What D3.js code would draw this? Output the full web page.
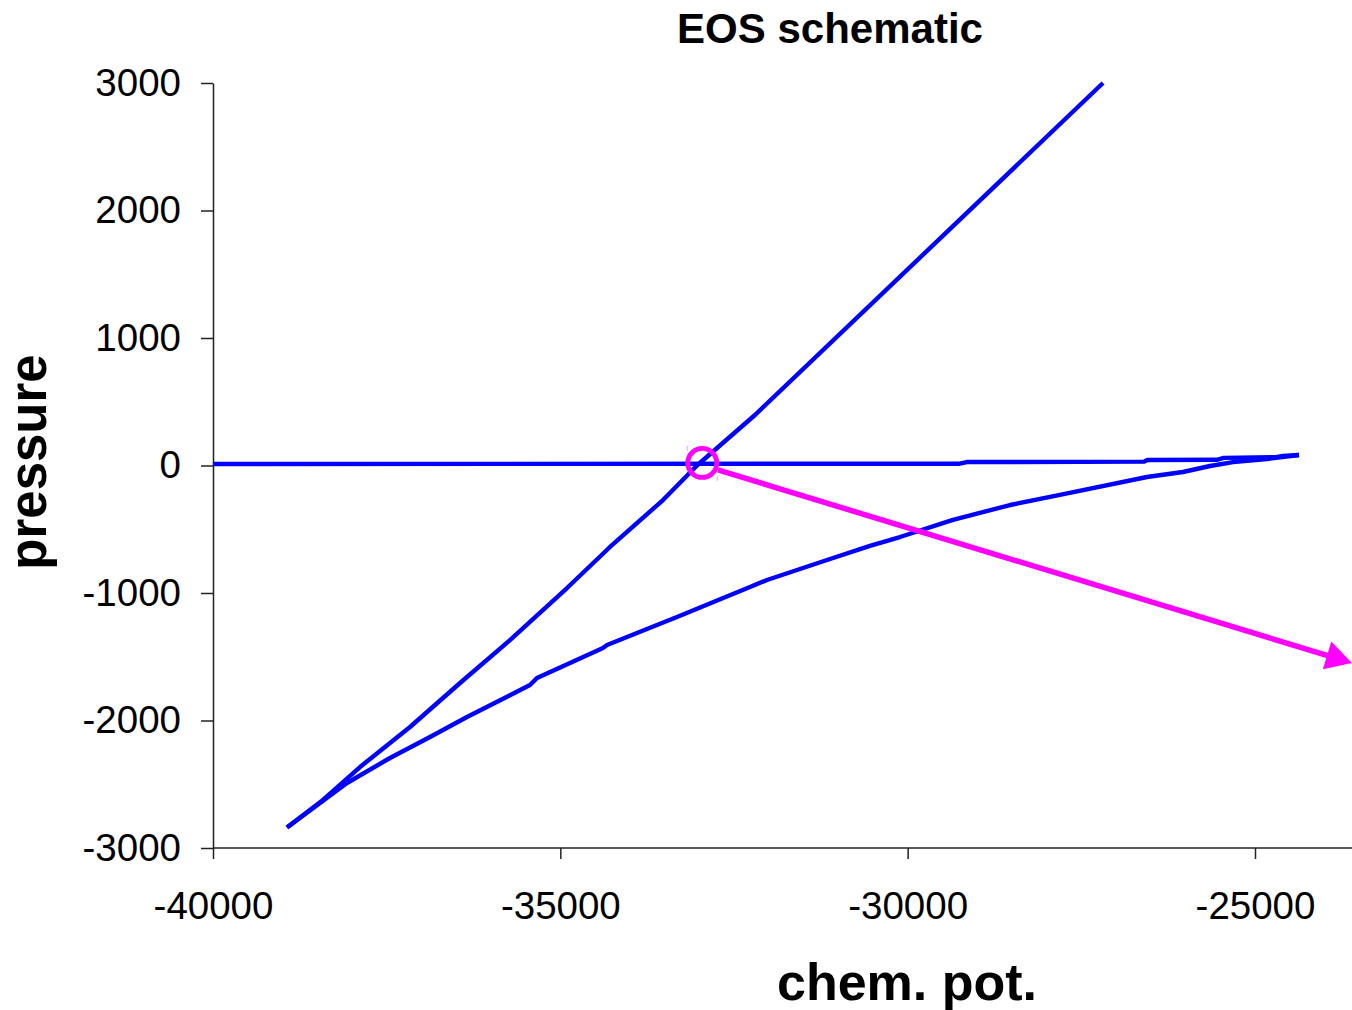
<!DOCTYPE html>
<html>
<head>
<meta charset="utf-8">
<script src="https://cdn.jsdelivr.net/npm/d3@7"></script>
<style>
  html, body { margin: 0; padding: 0; background: #fff; }
  svg { display: block; font-family: "Liberation Sans", Arial, sans-serif; }
</style>
</head>
<body>
<svg id="chart" width="1352" height="1010"></svg>
<script>
// steep branch (chem. pot., pressure)
const steepMu = [-38935, -38417, -37884, -37164, -36444, -35725, -34904, -34285, -33522, -33033, -32198, -27188];
const steepP  = [-2840, -2623, -2365, -2051, -1706, -1369, -961, -639, -271, 0, 396, 3000];

// lower, curved branch
const lowerMu = [-38935, -38071, -37452, -36876, -36344, -35437, -35336, -34386, -34328, -33321, -32270, -32025,
                 -31161, -30543, -30111, -29348, -28527, -27808, -26555, -26037, -25648, -25317, -24828, -24367];
const lowerP  = [-2840, -2490, -2294, -2129, -1973, -1722, -1667, -1431, -1408, -1188, -953, -898,
                 -741, -631, -561, -427, -310, -231, -90, -51, -4, 27, 51, 82];

// nearly flat branch
const flatMu = [-40000, -29250, -29150, -26600, -26550, -25550, -25450, -24700, -24600, -24367];
const flatP  = [12, 14, 27, 30, 43, 45, 60, 65, 75, 82];

const xTicks = [-40000, -35000, -30000, -25000];
const yTicks = [-3000, -2000, -1000, 0, 1000, 2000, 3000];

// annotation: circled crossing point and arrow
const markMu = -32957, markP = 20;
const arrowFrom = [-32731, -35];
const arrowTo = [-23604, -1549];

const svg = d3.select("#chart");

const x = d3.scaleLinear().domain([-40000, -25000]).range([213, 1255]);
const y = d3.scaleLinear().domain([-3000, 3000]).range([848, 83]);
const xEdge = -23600;

const axisColor = "#222";
const fmt = d => String(d);

// y axis
const yAxis = svg.append("g")
  .attr("transform", `translate(${x(-40000)},0)`)
  .call(d3.axisLeft(y).tickValues(yTicks).tickFormat(fmt).tickSize(12).tickSizeOuter(0).tickPadding(20));
yAxis.select(".domain").attr("stroke", axisColor).attr("stroke-width", 1.5);
yAxis.selectAll(".tick line").attr("stroke", axisColor).attr("stroke-width", 1.5);
yAxis.selectAll("text").attr("font-size", "38.5px").attr("fill", "#000")
  .attr("font-family", "Liberation Sans, Arial, sans-serif");

// x axis
const xAxis = svg.append("g")
  .attr("transform", `translate(0,${y(-3000)})`)
  .call(d3.axisBottom(x).tickValues(xTicks).tickFormat(fmt).tickSize(11).tickSizeOuter(0).tickPadding(33));
xAxis.select(".domain").remove();
xAxis.append("line")
  .attr("x1", x(-40000)).attr("x2", x(xEdge))
  .attr("stroke", axisColor).attr("stroke-width", 1.5);
xAxis.selectAll(".tick line").attr("stroke", axisColor).attr("stroke-width", 1.5);
xAxis.selectAll("text").attr("font-size", "38.5px").attr("fill", "#000")
  .attr("font-family", "Liberation Sans, Arial, sans-serif");

// curves
const line = d3.line().x(d => x(d[0])).y(d => y(d[1]));
const series = [
  d3.zip(flatMu, flatP),
  d3.zip(lowerMu, lowerP),
  d3.zip(steepMu, steepP)
];
svg.append("g").selectAll("path")
  .data(series)
  .enter()
  .append("path")
  .attr("d", line)
  .attr("fill", "none")
  .attr("stroke", "#0000ff")
  .attr("stroke-width", 4.4)
  .attr("stroke-linejoin", "round");

// annotation
const magenta = "#ff00ff";
const x0 = x(arrowFrom[0]), y0 = y(arrowFrom[1]);
const tx = x(arrowTo[0]), ty = y(arrowTo[1]);
const len = Math.hypot(tx - x0, ty - y0);
const ux = (tx - x0) / len, uy = (ty - y0) / len;
const headLen = 26, headHalf = 14.5;
const bx = tx - ux * headLen, by = ty - uy * headLen;

svg.append("line")
  .attr("x1", x0).attr("y1", y0)
  .attr("x2", bx + ux * 4).attr("y2", by + uy * 4)
  .attr("stroke", magenta)
  .attr("stroke-width", 5.5);

svg.append("polygon")
  .attr("points", [
    [tx, ty],
    [bx - uy * headHalf, by + ux * headHalf],
    [bx + uy * headHalf, by - ux * headHalf]
  ].map(p => p.join(",")).join(" "))
  .attr("fill", magenta);

// small error marks around the crossing
svg.append("line")
  .attr("x1", x(markMu) - 15).attr("x2", x(markMu) - 15)
  .attr("y1", y(markP) - 17).attr("y2", y(markP) - 12)
  .attr("stroke", "#f0a0f0").attr("stroke-width", 1);
svg.append("line")
  .attr("x1", x(markMu) + 15).attr("x2", x(markMu) + 15)
  .attr("y1", y(markP) + 13).attr("y2", y(markP) + 18)
  .attr("stroke", "#f0a0f0").attr("stroke-width", 1);

svg.append("circle")
  .attr("cx", x(markMu)).attr("cy", y(markP))
  .attr("r", 14.5)
  .attr("fill", "none")
  .attr("stroke", magenta)
  .attr("stroke-width", 4.8);

// titles
svg.append("text")
  .attr("x", 830).attr("y", 43)
  .attr("text-anchor", "middle")
  .attr("font-size", "42px").attr("font-weight", "bold")
  .text("EOS schematic");

svg.append("text")
  .attr("x", 907).attr("y", 1000)
  .attr("text-anchor", "middle")
  .attr("font-size", "52px").attr("font-weight", "bold")
  .text("chem. pot.");

svg.append("text")
  .attr("transform", "translate(46,462) rotate(-90)")
  .attr("text-anchor", "middle")
  .attr("font-size", "51px").attr("font-weight", "bold")
  .text("pressure");
</script>
</body>
</html>
